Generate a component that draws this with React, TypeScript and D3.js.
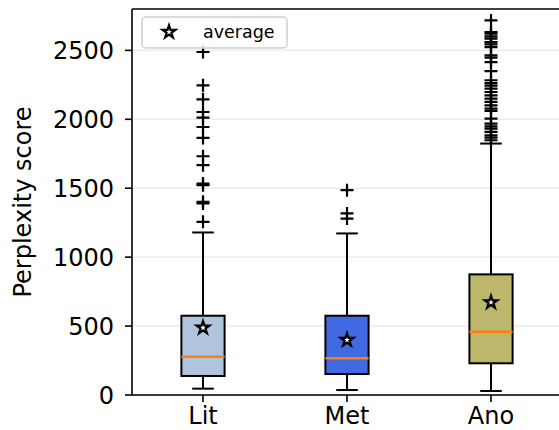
import React from 'react';
import * as d3 from 'd3';

// categories and box statistics
const categories = ['Lit', 'Met', 'Ano'];
const boxColors = ['#b0c4de', '#4169e1', '#bdb76b'];
const q1 = [138, 152, 230];
const medians = [278, 266, 459];
const q3 = [575, 575, 875];
const whiskerLow = [46, 36, 29];
const whiskerHigh = [1179, 1172, 1824];
const means = [488, 399, 672];
const outliers = [
  [1256, 1389, 1401, 1522, 1534, 1667, 1732, 1865, 1944, 2012, 2053, 2145, 2246, 2488],
  [1280, 1317, 1486],
  [1848, 1867, 1884, 1908, 1932, 1949, 1969, 2005, 2060, 2077, 2101, 2126, 2150, 2174,
    2198, 2222, 2244, 2263, 2283, 2350, 2415, 2447, 2464, 2524, 2543, 2560, 2585, 2601,
    2621, 2633, 2717, 2850, 2950],
];
const yTicks = [0, 500, 1000, 1500, 2000, 2500];

const width = 559;
const height = 430;
const left = 132;
const top = 9;
const bottom = 395;
const font = 'DejaVu Sans, sans-serif';

export default function App() {
  const x = d3.scaleLinear().domain([0.5, 3.5]).range([131, 563]);
  const y = d3.scaleLinear().domain([0, 2800]).range([bottom, top]);
  const boxW = x(1.3) - x(1);
  const capW = boxW / 2;
  const star = d3.symbol(d3.symbolStar, 50)()!;

  return (
    <div style={{ position: 'absolute', left: 0, top: 0 }}>
      <svg width={width} height={height} style={{ display: 'block', background: '#fff' }}>
        <defs>
          <clipPath id="plot">
            <rect x={left} y={top} width={width - left} height={bottom - top} />
          </clipPath>
        </defs>

        {/* grid */}
        {yTicks.map(t => (
          <line key={'g' + t} x1={left} x2={width} y1={y(t)} y2={y(t)} stroke="#ebebeb" strokeWidth={1.5} />
        ))}

        <g clipPath="url(#plot)">
          {categories.map((c, i) => {
            const cx = x(i + 1);
            return (
              <g key={c}>
                <line x1={cx} x2={cx} y1={y(q3[i])} y2={y(whiskerHigh[i])} stroke="#000" strokeWidth={2} />
                <line x1={cx} x2={cx} y1={y(q1[i])} y2={y(whiskerLow[i])} stroke="#000" strokeWidth={2} />
                <line x1={cx - capW / 2} x2={cx + capW / 2} y1={y(whiskerHigh[i])} y2={y(whiskerHigh[i])} stroke="#000" strokeWidth={2} />
                <line x1={cx - capW / 2} x2={cx + capW / 2} y1={y(whiskerLow[i])} y2={y(whiskerLow[i])} stroke="#000" strokeWidth={2} />
                <rect x={cx - boxW / 2} y={y(q3[i])} width={boxW} height={y(q1[i]) - y(q3[i])}
                  fill={boxColors[i]} stroke="#000" strokeWidth={2} />
                <line x1={cx - boxW / 2} x2={cx + boxW / 2} y1={y(medians[i])} y2={y(medians[i])} stroke="#ff7f0e" strokeWidth={2.5} />
                {outliers[i].map((v, j) => (
                  <path key={j} d={`M${cx - 6.5},${y(v)}H${cx + 6.5}M${cx},${y(v) - 6.5}V${y(v) + 6.5}`}
                    stroke="#000" strokeWidth={2.2} fill="none" />
                ))}
                <path d={star} transform={`translate(${cx},${y(means[i])})`} fill="#fff" stroke="#000" strokeWidth={2.2} />
              </g>
            );
          })}
        </g>

        {/* spines */}
        <line x1={left} x2={left} y1={top} y2={bottom} stroke="#000" strokeWidth={1.6} />
        <line x1={left} x2={width} y1={bottom} y2={bottom} stroke="#000" strokeWidth={1.6} />
        <line x1={left} x2={width} y1={top} y2={top} stroke="#000" strokeWidth={1.6} />

        {/* y axis */}
        {yTicks.map(t => (
          <g key={'y' + t}>
            <line x1={left - 7} x2={left} y1={y(t)} y2={y(t)} stroke="#000" strokeWidth={1.6} />
            <text x={left - 18} y={y(t)} dy="0.36em" textAnchor="end" fontFamily={font} fontSize={24}>{t}</text>
          </g>
        ))}
        <text transform={`translate(31,${(top + bottom) / 2}) rotate(-90)`} textAnchor="middle"
          fontFamily={font} fontSize={24}>Perplexity score</text>

        {/* x axis */}
        {categories.map((c, i) => (
          <g key={'x' + c}>
            <line x1={x(i + 1)} x2={x(i + 1)} y1={bottom} y2={bottom + 7} stroke="#000" strokeWidth={1.6} />
            <text x={x(i + 1)} y={424} textAnchor="middle" fontFamily={font} fontSize={24}>{c}</text>
          </g>
        ))}

        {/* legend */}
        <rect x={142} y={17} width={145} height={31} rx={4} fill="#fff" fillOpacity={0.8} stroke="#d0d0d0" strokeWidth={1.5} />
        <path d={star} transform="translate(169,32)" fill="#fff" stroke="#000" strokeWidth={2.2} />
        <text x={203} y={38} fontFamily={font} fontSize={17.5}>average</text>
      </svg>
    </div>
  );
}
